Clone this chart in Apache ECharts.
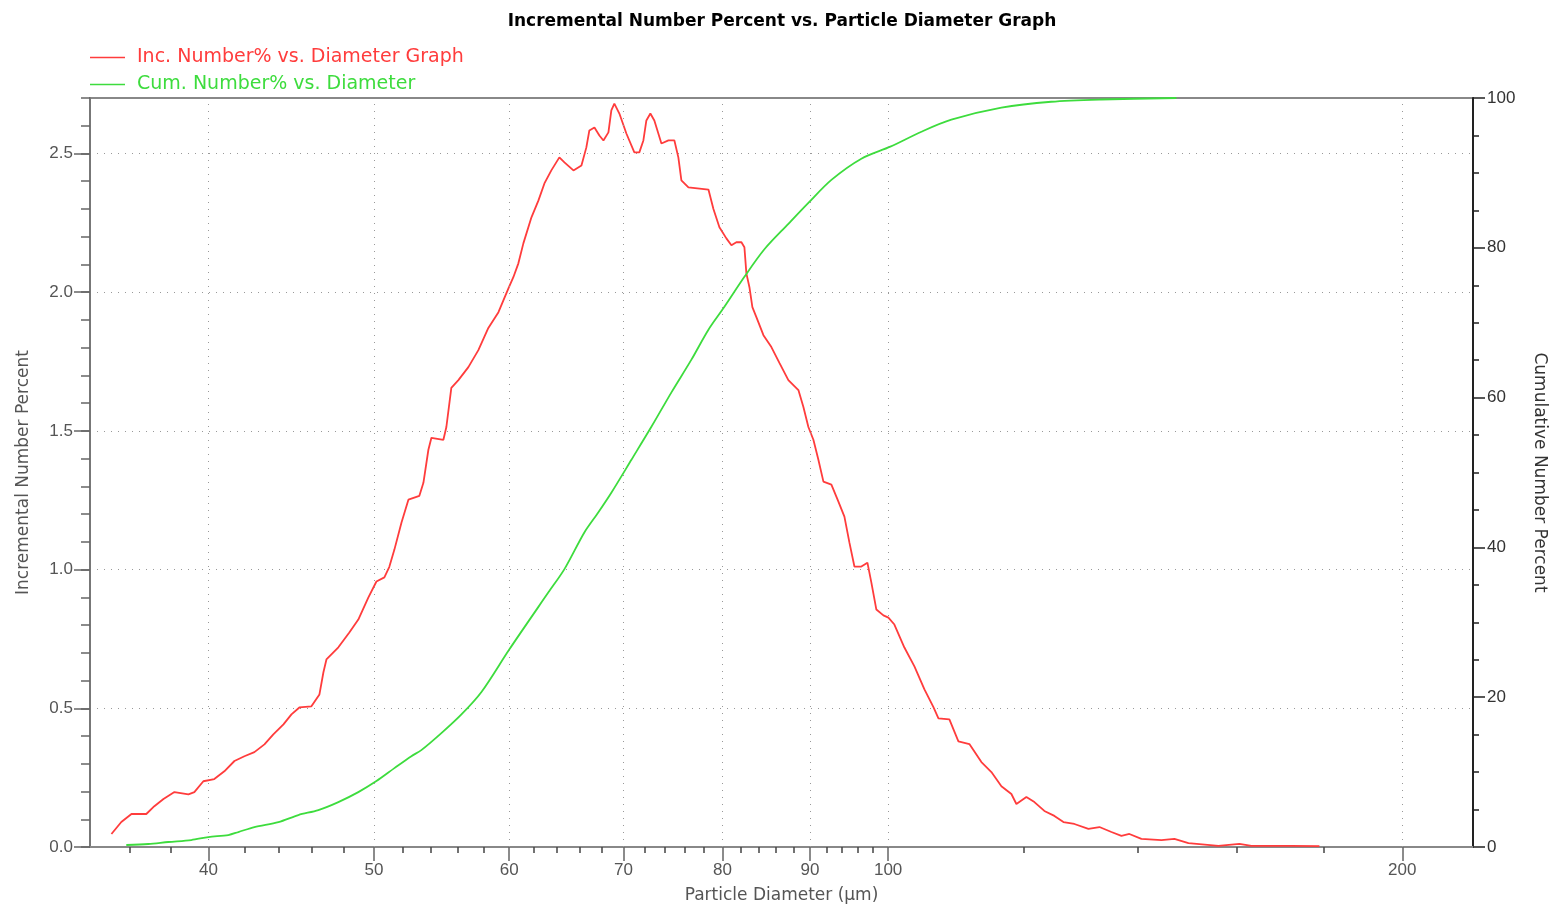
<!DOCTYPE html>
<html>
<head>
<meta charset="utf-8">
<title>Incremental Number Percent vs. Particle Diameter Graph</title>
<script src="https://cdn.jsdelivr.net/npm/echarts@6/dist/echarts.min.js"></script>
<style>
  html, body { margin: 0; padding: 0; background: #fff; }
  #chart { width: 1564px; height: 909px; }
</style>
</head>
<body>
<div id="chart"></div>
<script>
// Incremental number percent per particle diameter (µm)
const incDiameter = [
  35.10, 35.57, 36.06, 36.79, 37.19, 37.65, 38.21, 38.94, 39.25, 39.73,
  40.32, 40.87, 41.43, 41.99, 42.56, 43.14, 43.66, 44.26, 44.74, 45.22,
  45.96, 46.46, 46.71, 46.90, 47.66, 48.37, 48.96, 49.63, 50.17, 50.71,
  51.05, 51.40, 51.89, 52.38, 53.16, 53.45, 53.81, 54.03, 54.91, 55.13,
  55.50, 56.03, 56.79, 57.56, 58.34, 59.14, 59.94, 60.34, 60.75, 61.16,
  61.83, 62.41, 62.92, 63.51, 64.20, 64.64, 65.43, 66.14, 66.58, 66.85,
  67.31, 67.76, 68.13, 68.59, 68.86, 69.14, 69.61, 70.27, 71.03, 71.51,
  71.90, 72.19, 72.58, 72.97, 73.67, 74.37, 74.97, 75.37, 75.68, 76.40,
  78.49, 79.02, 79.66, 80.41, 80.96, 81.50, 82.06, 82.39, 82.61, 82.95,
  83.28, 83.73, 84.53, 85.44, 86.37, 87.42, 88.61, 89.21, 89.81, 90.42,
  91.03, 91.65, 92.64, 93.52, 94.28, 94.92, 95.56, 96.46, 97.25, 97.77,
  98.43, 99.37, 100.04, 100.85, 102.22, 103.61, 105.02, 106.30, 107.02, 108.61,
  109.94, 111.58, 113.40, 114.94, 116.50, 118.08, 118.88, 120.49, 121.80, 123.45,
  125.13, 126.66, 128.55, 131.00, 132.96, 135.13, 136.96, 138.44, 140.70, 144.55,
  147.10, 149.91, 156.09, 160.57, 163.19, 172.24, 178.86
];
const incPercent = [
  0.047, 0.090, 0.119, 0.119, 0.147, 0.173, 0.198, 0.190, 0.198, 0.237,
  0.245, 0.273, 0.310, 0.327, 0.342, 0.370, 0.406, 0.442, 0.478, 0.503,
  0.507, 0.550, 0.630, 0.676, 0.720, 0.773, 0.820, 0.900, 0.957, 0.972,
  1.010, 1.072, 1.169, 1.252, 1.266, 1.313, 1.432, 1.475, 1.468, 1.514,
  1.655, 1.683, 1.730, 1.791, 1.871, 1.928, 2.014, 2.054, 2.104, 2.176,
  2.270, 2.330, 2.392, 2.439, 2.486, 2.468, 2.439, 2.457, 2.522, 2.583,
  2.594, 2.565, 2.547, 2.576, 2.655, 2.680, 2.644, 2.572, 2.504, 2.504,
  2.547, 2.619, 2.644, 2.619, 2.536, 2.547, 2.547, 2.486, 2.403, 2.378,
  2.370, 2.300, 2.234, 2.194, 2.169, 2.180, 2.180, 2.162, 2.068, 2.018,
  1.946, 1.910, 1.845, 1.802, 1.745, 1.683, 1.647, 1.586, 1.514, 1.468,
  1.396, 1.317, 1.306, 1.245, 1.191, 1.097, 1.011, 1.011, 1.025, 0.953,
  0.856, 0.835, 0.827, 0.802, 0.719, 0.651, 0.568, 0.504, 0.464, 0.460,
  0.381, 0.371, 0.306, 0.270, 0.219, 0.191, 0.155, 0.180, 0.162, 0.130,
  0.112, 0.090, 0.083, 0.065, 0.072, 0.054, 0.040, 0.047, 0.029, 0.025,
  0.029, 0.014, 0.004, 0.011, 0.004, 0.004, 0.003
];

// Cumulative number percent per particle diameter (µm)
const cumDiameter = [
  35.81, 36.89, 37.90, 39.09, 40.00, 41.09, 41.65, 42.56, 43.96, 45.16,
  46.39, 47.66, 48.96, 50.17, 51.40, 52.59, 53.30, 54.76, 56.26, 57.80,
  60.02, 63.26, 64.64, 66.40, 67.67, 68.86, 70.75, 72.68, 74.67, 76.71,
  78.49, 80.20, 82.39, 84.64, 87.42, 89.81, 92.64, 96.46, 100.3, 104.6,
  108.9, 116.5, 124.6, 133.3, 147.5
];
const cumPercent = [
  0.27, 0.40, 0.67, 0.93, 1.33, 1.60, 2.00, 2.67, 3.33, 4.27,
  4.93, 6.00, 7.33, 8.80, 10.53, 12.13, 12.93, 15.2, 17.7, 20.7,
  26.4, 34.0, 37.1, 42.0, 44.7, 47.3, 51.7, 56.1, 60.7, 65.07,
  69.07, 72.13, 76.13, 79.8, 83.2, 86.0, 89.07, 91.9, 93.5, 95.5,
  97.1, 98.7, 99.5, 99.8, 100.0
];

// Axis ticks and labels
const xMajorTicks = [40, 50, 60, 70, 80, 90, 100, 200];
const xMinorTicks = [36, 38, 42, 44, 46, 48, 52, 54, 56, 58, 62, 64, 66, 68,
  72, 74, 76, 78, 82, 84, 86, 88, 92, 94, 96, 98, 120, 140, 160, 180];
const incTickLabels = [0, 0.5, 1.0, 1.5, 2.0, 2.5];
const xMin = 34.1, xMax = 220;

const RED = '#ff3c3c';
const GREEN = '#3ddc3d';
const LABEL_FONT = { fontFamily: 'Liberation Sans', fontSize: 17, color: '#555' };
const NAME_FONT = { fontFamily: 'DejaVu Sans', fontSize: 17, color: '#555' };
const GRID_LINE = { color: '#999', width: 1, type: [1, 6] };

const chart = echarts.init(document.getElementById('chart'), null, { renderer: 'canvas' });

const incData = incDiameter.map((d, i) => [d, incPercent[i]]);
const cumData = cumDiameter.map((d, i) => [d, cumPercent[i]]);
const lg = v => Math.log10(v);

chart.setOption({
  animation: false,
  backgroundColor: '#fff',
  title: {
    text: 'Incremental Number Percent vs. Particle Diameter Graph',
    left: 'center',
    top: 8,
    textStyle: { fontFamily: 'DejaVu Sans', fontWeight: 'bold', fontSize: 17, color: '#000' }
  },
  legend: {
    orient: 'vertical',
    left: 90,
    top: 48,
    padding: 0,
    icon: 'rect',
    itemWidth: 35,
    itemHeight: 1.5,
    itemGap: 8,
    selectedMode: false,
    textStyle: { fontFamily: 'DejaVu Sans', fontSize: 19, padding: [0, 0, 0, 7] },
    data: [
      { name: 'Inc. Number% vs. Diameter Graph', textStyle: { color: RED } },
      { name: 'Cum. Number% vs. Diameter', textStyle: { color: GREEN } }
    ]
  },
  grid: {
    left: 90, right: 91, top: 98, bottom: 61,
    show: true, borderColor: '#888', borderWidth: 2, backgroundColor: 'transparent'
  },
  xAxis: [
    {
      // data axis: logarithmic particle diameter
      type: 'log', logBase: 10, min: xMin, max: xMax, position: 'bottom',
      axisLine: { lineStyle: { color: '#888', width: 2 } },
      axisTick: { show: false }, axisLabel: { show: false }, splitLine: { show: false },
      minorTick: { show: false }, minorSplitLine: { show: false },
      name: 'Particle Diameter (μm)', nameLocation: 'middle', nameGap: 40,
      nameTextStyle: NAME_FONT
    },
    {
      // labelled major ticks, placed in log10 units on the same span
      type: 'value', min: lg(xMin), max: lg(xMax), position: 'bottom',
      axisLine: { show: false },
      axisTick: { customValues: xMajorTicks.map(lg), length: 14, lineStyle: { color: '#666', width: 1.5 } },
      axisLabel: {
        customValues: xMajorTicks.map(lg), margin: 15,
        formatter: v => String(Math.round(Math.pow(10, v))), ...LABEL_FONT
      },
      splitLine: { show: false }
    },
    {
      // unlabelled minor ticks
      type: 'value', min: lg(xMin), max: lg(xMax), position: 'bottom',
      axisLine: { show: false },
      axisTick: { customValues: xMinorTicks.map(lg), length: 6, lineStyle: { color: '#444', width: 1.5 } },
      axisLabel: { show: false },
      splitLine: { show: false }
    }
  ],
  yAxis: [
    {
      type: 'value', position: 'left', min: 0, max: 2.7, interval: 0.5,
      axisLine: { show: true, lineStyle: { color: '#777', width: 2 } },
      axisTick: { show: true, customValues: incTickLabels, length: 16, lineStyle: { color: '#666', width: 1.5 } },
      axisLabel: { customValues: incTickLabels, margin: 17, formatter: v => v.toFixed(1), ...LABEL_FONT },
      splitLine: { show: true, lineStyle: GRID_LINE },
      name: 'Incremental Number Percent', nameLocation: 'middle', nameGap: 58,
      nameTextStyle: NAME_FONT
    },
    {
      type: 'value', position: 'right', min: 0, max: 100, interval: 20,
      axisLine: { show: true, lineStyle: { color: '#222', width: 2 } },
      axisTick: { show: true, length: 12, lineStyle: { color: '#222', width: 1.5 } },
      minorTick: { show: true, splitNumber: 4, length: 6, lineStyle: { color: '#222', width: 1.5 } },
      axisLabel: { margin: 14, ...LABEL_FONT, color: '#333' },
      splitLine: { show: false },
      name: 'Cumulative Number Percent', nameLocation: 'middle', nameGap: 58, nameRotate: -90,
      nameTextStyle: { ...NAME_FONT, color: '#333' }
    },
    {
      // minor ticks every 0.1 on the left scale
      type: 'value', position: 'left', min: 0, max: 2.7, interval: 0.1,
      axisLine: { show: false },
      axisTick: { show: true, length: 9, lineStyle: { color: '#666', width: 1.5 } },
      axisLabel: { show: false },
      splitLine: { show: false }
    }
  ],
  series: [
    {
      name: 'Inc. Number% vs. Diameter Graph',
      type: 'line', xAxisIndex: 0, yAxisIndex: 0,
      data: incData, symbol: 'none', smooth: false,
      lineStyle: { color: RED, width: 1.8 }, itemStyle: { color: RED },
      z: 3,
      markLine: {
        silent: true, symbol: ['none', 'none'], label: { show: false },
        lineStyle: GRID_LINE, emphasis: { disabled: true },
        data: xMajorTicks.map(v => ({ xAxis: v }))
      }
    },
    {
      name: 'Cum. Number% vs. Diameter',
      type: 'line', xAxisIndex: 0, yAxisIndex: 1,
      data: cumData, symbol: 'none', smooth: 0.3,
      lineStyle: { color: GREEN, width: 1.8 }, itemStyle: { color: GREEN },
      z: 3
    }
  ]
});
</script>
</body>
</html>
